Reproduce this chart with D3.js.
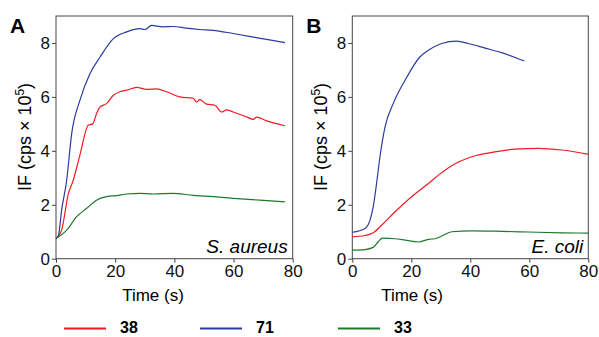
<!DOCTYPE html>
<html>
<head>
<meta charset="utf-8">
<script src="https://cdn.jsdelivr.net/npm/d3@7"></script>
<style>
  body { margin: 0; background: #fff; }
  svg { font-family: "Liberation Sans", Arial, sans-serif; }
</style>
</head>
<body>
<div id="chart"></div>
<script>
// time (s), IF (cps x 10^5)
const aRed = [[0,0.75],[1.9,1.06],[4.2,2.42],[5.8,2.9],[8.1,3.85],[10.9,4.95],[12.4,5.0],[13.7,5.38],[14.9,5.63],[17.1,5.75],[19.4,6.06],[21.6,6.19],[23.9,6.25],[27.3,6.35],[30.6,6.28],[34,6.3],[37.4,6.19],[41.9,6.0],[46.4,5.95],[47.5,5.81],[48.6,5.9],[50.9,5.73],[53.7,5.69],[56,5.44],[57.6,5.52],[59.9,5.44],[64.4,5.26],[66.7,5.17],[67.8,5.25],[71.2,5.11],[77.4,4.93]];
const aBlue = [[0,0.75],[0.8,0.85],[1.9,1.8],[3.6,2.9],[5.3,4.64],[8.1,5.88],[11.5,6.87],[14.9,7.48],[19.4,8.16],[23.9,8.41],[28.4,8.53],[30,8.5],[32.3,8.65],[36,8.6],[39.7,8.61],[44,8.55],[48.6,8.5],[53.1,8.47],[59.9,8.35],[66.7,8.22],[71.2,8.13],[77.4,8.01]];
const aGreen = [[0,0.75],[3.6,1.06],[7,1.56],[10.4,1.87],[13.7,2.17],[17.1,2.3],[20.5,2.34],[23.9,2.4],[28.4,2.42],[32.9,2.4],[39.6,2.42],[46.4,2.35],[50.9,2.32],[59.9,2.24],[68.9,2.17],[77.4,2.11]];

const bRed = [[0,0.81],[4.3,0.86],[7.1,0.96],[10,1.25],[14.5,1.74],[20.1,2.3],[25.8,2.79],[29.2,3.1],[33.7,3.45],[40.5,3.78],[48.4,3.96],[55.2,4.06],[63.1,4.09],[71,4.03],[79.9,3.88]];
const bBlue = [[0,0.98],[4.3,1.12],[6,1.43],[7.1,1.93],[8.3,2.85],[9.4,3.8],[11.1,4.89],[13.9,5.76],[17.9,6.62],[22.9,7.48],[25.8,7.73],[30.3,7.98],[35.4,8.07],[39.3,7.98],[45,7.81],[50.6,7.64],[58.3,7.33]];
const bGreen = [[0,0.32],[4.3,0.34],[7.1,0.42],[8.8,0.63],[10.2,0.76],[14.5,0.74],[17.9,0.69],[22.4,0.62],[25.8,0.72],[28,0.74],[30.3,0.84],[33.7,1.0],[40.5,1.03],[48.4,1.02],[59.7,0.99],[71,0.96],[79.9,0.95]];

const xTicks = [0, 20, 40, 60, 80];
const yTicks = [0, 2, 4, 6, 8];
const legendLabels = ["38", "71", "33"];
const colors = ["#ee1c25", "#2b3a9e", "#1c7a2c"];

const panels = [
  { letter: "A", species: "S. aureus", series: [aRed, aBlue, aGreen], left: 56, right: 292.7, titleX: 153 },
  { letter: "B", species: "E. coli", series: [bRed, bBlue, bGreen], left: 352.3, right: 588.3, titleX: 412 }
];

const svg = d3.select("#chart").append("svg")
  .attr("width", 599)
  .attr("height", 337);

const plotTop = 16, plotBottom = 258.7;

panels.forEach(p => {
  const x = d3.scaleLinear().domain([0, 80]).range([p.left, p.right]);
  const y = d3.scaleLinear().domain([0, 9]).range([plotBottom, plotTop]);

  svg.append("rect")
    .attr("x", p.left).attr("y", plotTop)
    .attr("width", p.right - p.left).attr("height", plotBottom - plotTop)
    .attr("fill", "none").attr("stroke", "#444").attr("stroke-width", 1);

  const xAxis = svg.append("g")
    .attr("transform", `translate(0,${plotBottom})`)
    .call(d3.axisBottom(x).tickValues(xTicks).tickSize(4).tickPadding(2));
  const yAxis = svg.append("g")
    .attr("transform", `translate(${p.left},0)`)
    .call(d3.axisLeft(y).tickValues(yTicks).tickSize(4).tickPadding(2));
  [xAxis, yAxis].forEach(ax => {
    ax.select(".domain").remove();
    ax.selectAll("line").attr("stroke", "#444");
    ax.selectAll("text").attr("font-size", 17).attr("fill", "#111")
      .attr("font-family", "Liberation Sans, Arial, sans-serif");
  });

  const line = d3.line().x(d => x(d[0])).y(d => y(d[1])).curve(d3.curveMonotoneX);
  p.series.forEach((s, i) => {
    svg.append("path")
      .datum(s)
      .attr("fill", "none")
      .attr("stroke", colors[i])
      .attr("stroke-width", 1.2)
      .attr("d", line);
  });

  svg.append("text")
    .attr("x", p.left - 46).attr("y", 33)
    .attr("font-size", 21).attr("font-weight", "bold")
    .text(p.letter);

  svg.append("text")
    .attr("x", p.right - 5).attr("y", 253)
    .attr("text-anchor", "end")
    .attr("font-size", 19).attr("font-style", "italic")
    .text(p.species);

  svg.append("text")
    .attr("x", p.titleX).attr("y", 301)
    .attr("text-anchor", "middle")
    .attr("font-size", 17)
    .text("Time (s)");

  const yl = svg.append("text")
    .attr("transform", `translate(${p.left - 25.5},137) rotate(-90)`)
    .attr("text-anchor", "middle")
    .attr("font-size", 18);
  yl.append("tspan").text("IF (cps × 10");
  yl.append("tspan").attr("dy", -7).attr("font-size", 12).text("5");
  yl.append("tspan").attr("dy", 7).text(")");
});

// legend
const legendX = [64, 200, 338];
legendLabels.forEach((lab, i) => {
  const g = svg.append("g").attr("transform", `translate(${legendX[i]},328.5)`);
  g.append("line").attr("x1", 0).attr("x2", 42).attr("y1", 0).attr("y2", 0)
    .attr("stroke", colors[i]).attr("stroke-width", 2);
  g.append("text").attr("x", 56).attr("y", 4.5)
    .attr("font-size", 16).attr("font-weight", "bold")
    .text(lab);
});
</script>
</body>
</html>
